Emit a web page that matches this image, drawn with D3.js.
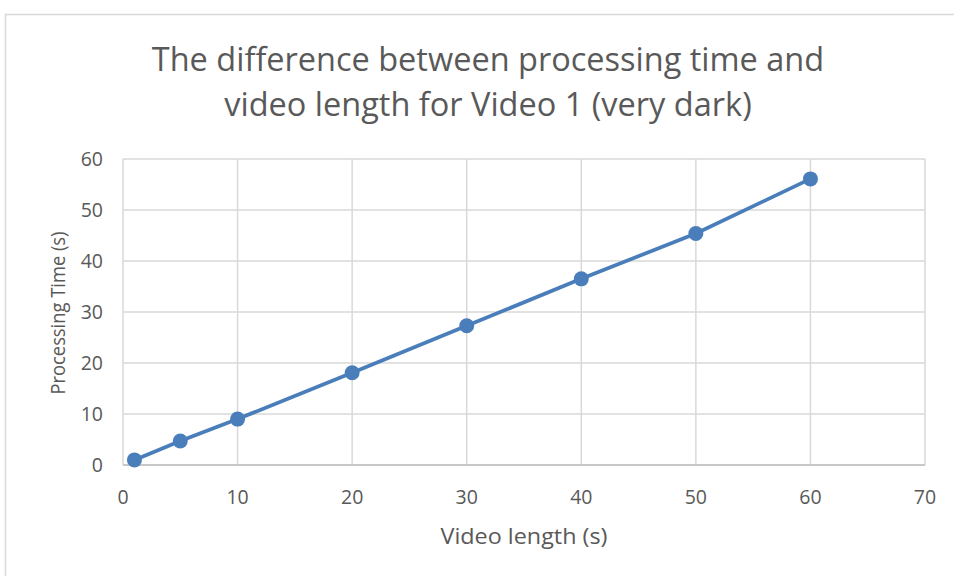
<!DOCTYPE html>
<html>
<head>
<meta charset="utf-8">
<script src="https://cdn.jsdelivr.net/npm/d3@7"></script>
<style>
  body { margin: 0; background: #fff; }
  text { font-family: "Open Sans", "Noto Sans", sans-serif; fill: #595959; }
</style>
</head>
<body>
<svg width="954" height="576"></svg>
<script>
// video length (s) vs processing time (s)
var videoLength = [1, 5, 10, 20, 30, 40, 50, 60]
var processTime = [1.0, 4.7, 9.0, 18.1, 27.3, 36.5, 45.4, 56.1]
var xTicks = [0, 10, 20, 30, 40, 50, 60, 70]
var yTicks = [0, 10, 20, 30, 40, 50, 60]
var titleLines = ["The difference between processing time and", "video length for Video 1 (very dark)"]

var svg = d3.select("svg")

// chart border
svg.append("rect")
  .attr("x", 5.5).attr("y", 14.5)
  .attr("width", 960).attr("height", 600)
  .attr("fill", "#fff")
  .attr("stroke", "#d9d9d9")
  .attr("stroke-width", 1.5)

var plot = {left: 123, right: 925, top: 159, bottom: 465}

var x = d3.scaleLinear().domain([0, 70]).range([plot.left, plot.right])
var y = d3.scaleLinear().domain([0, 60]).range([plot.bottom, plot.top])

// gridlines
svg.append("g")
  .selectAll("line")
  .data(yTicks)
  .enter()
  .append("line")
  .attr("x1", plot.left).attr("x2", plot.right)
  .attr("y1", function(d){ return y(d) }).attr("y2", function(d){ return y(d) })
  .attr("stroke", "#d9d9d9").attr("stroke-width", 1.5)

svg.append("g")
  .selectAll("line")
  .data(xTicks)
  .enter()
  .append("line")
  .attr("y1", plot.top).attr("y2", plot.bottom)
  .attr("x1", function(d){ return x(d) }).attr("x2", function(d){ return x(d) })
  .attr("stroke", "#d9d9d9").attr("stroke-width", 1.5)

// axis line at bottom
svg.append("line")
  .attr("x1", plot.left).attr("x2", plot.right)
  .attr("y1", plot.bottom).attr("y2", plot.bottom)
  .attr("stroke", "#bfbfbf").attr("stroke-width", 1.5)

// tick labels
svg.append("g")
  .selectAll("text")
  .data(yTicks)
  .enter()
  .append("text")
  .attr("x", 103)
  .attr("y", function(d){ return y(d) })
  .attr("dy", "0.35em")
  .attr("text-anchor", "end")
  .style("font-size", "19.5px")
  .text(function(d){ return d })

svg.append("g")
  .selectAll("text")
  .data(xTicks)
  .enter()
  .append("text")
  .attr("x", function(d){ return x(d) })
  .attr("y", 504)
  .attr("text-anchor", "middle")
  .style("font-size", "19.5px")
  .text(function(d){ return d })

// axis titles
svg.append("text")
  .attr("x", 524).attr("y", 544)
  .attr("text-anchor", "middle")
  .attr("textLength", 167)
  .attr("lengthAdjust", "spacingAndGlyphs")
  .style("font-size", "22px")
  .text("Video length (s)")

svg.append("text")
  .attr("transform", "translate(65,313) rotate(-90)")
  .attr("text-anchor", "middle")
  .attr("textLength", 163)
  .attr("lengthAdjust", "spacingAndGlyphs")
  .style("font-size", "20px")
  .text("Processing Time (s)")

// title
svg.append("g")
  .selectAll("text")
  .data(titleLines)
  .enter()
  .append("text")
  .attr("x", 488)
  .attr("y", function(d, i){ return 71 + i * 45 })
  .attr("text-anchor", "middle")
  .style("font-size", "32.5px")
  .text(function(d){ return d })

// series
var pts = videoLength.map(function(v, i){ return [v, processTime[i]] })

svg.append("path")
  .datum(pts)
  .attr("d", d3.line().x(function(d){ return x(d[0]) }).y(function(d){ return y(d[1]) }))
  .attr("fill", "none")
  .attr("stroke", "#4a7ebb")
  .attr("stroke-width", 3.75)

svg.append("g")
  .selectAll("circle")
  .data(pts)
  .enter()
  .append("circle")
  .attr("cx", function(d){ return x(d[0]) })
  .attr("cy", function(d){ return y(d[1]) })
  .attr("r", 7.5)
  .attr("fill", "#4a7ebb")
</script>
</body>
</html>
